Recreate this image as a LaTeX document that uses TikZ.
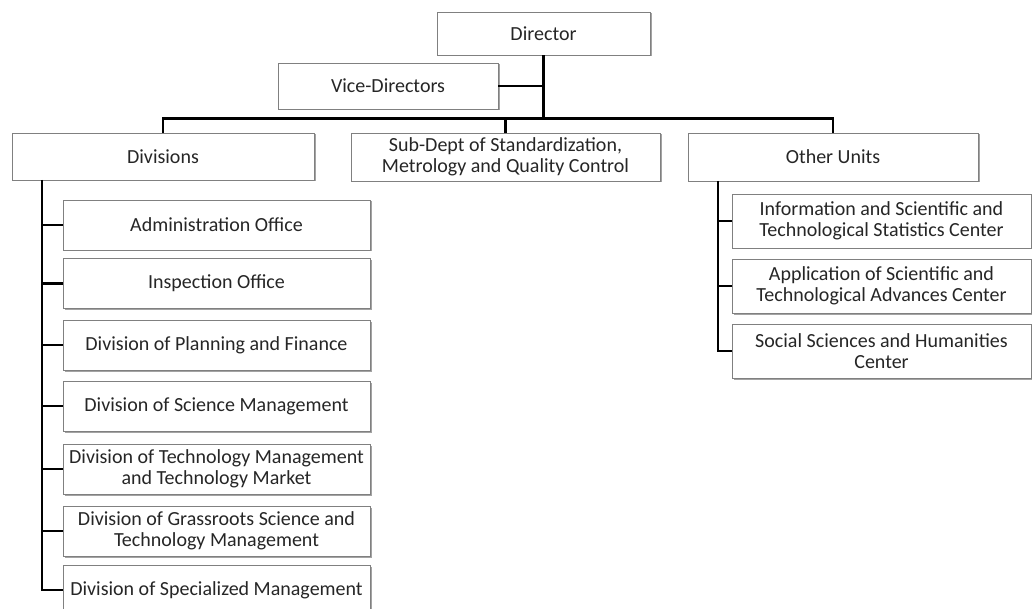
\documentclass[tikz,border=0pt]{standalone}
\usepackage{fontspec}
\setmainfont{Carlito}
\usetikzlibrary{shadows}
\begin{document}
\begin{tikzpicture}[x=1pt,y=-1pt,
  box/.style={draw=black!50, line width=0.9pt, fill=white, text=black!85,
    align=center, inner sep=0pt,
    font=\fontsize{20}{21.5}\selectfont,
    drop shadow={shadow xshift=1.5pt, shadow yshift=-1.5pt, fill=black!45, opacity=0.8}},
  conn/.style={draw=black, line width=2.3pt},
]
\useasboundingbox (0,0) rectangle (1032,609);
\begin{scope}
\clip (0,0) rectangle (1032,609);

% top levels
\node[box, minimum width=213, minimum height=43] (dir) at (543.5,33.5) {Director};
\node[box, minimum width=220, minimum height=46] (vice) at (388,86) {Vice-Directors};
\node[box, minimum width=302, minimum height=47] (div) at (163,156.5) {Divisions};
\node[box, minimum width=309, minimum height=48] (sub) at (505.5,157) {Sub-Dept of Standardization,\\Metrology and Quality Control};
\node[box, minimum width=290, minimum height=48] (oth) at (833,157) {Other Units};

% divisions
\begin{scope}[every node/.style={box, minimum width=307, minimum height=50}]
\node (d1) at (216.5,225) {Administration Office};
\node (d2) at (216.5,283.5) {Inspection Office};
\node (d3) at (216.5,345) {Division of Planning and Finance};
\node (d4) at (216.5,406) {Division of Science Management};
\node (d5) at (216.5,469) {Division of Technology Management\\and Technology Market};
\node (d6) at (216.5,531) {Division of Grassroots Science and\\Technology Management};
\node (d7) at (216.5,590) {Division of Specialized Management};
\end{scope}

% other units
\begin{scope}[every node/.style={box, minimum width=299, minimum height=54}]
\node (o1) at (881.5,221) {Information and Scientific and\\Technological Statistics Center};
\node (o2) at (881.5,286) {Application of Scientific and\\Technological Advances Center};
\node (o3) at (881.5,351) {Social Sciences and Humanities\\Center};
\end{scope}

% connectors
\coordinate (bus) at (0,118.5);
\coordinate (dsp) at (42,180);
\coordinate (osp) at (718,181);

\draw[conn] (dir.south) -- (dir.south |- bus);
\draw[conn] (vice.east) -- (vice.east -| dir.south);
\draw[conn] (div.north) -- (div.north |- bus) -| (oth.north);
\draw[conn] (sub.north) -- (sub.north |- bus);

\draw[conn] (dsp) |- (d7.west);
\foreach \n in {d1,d2,d3,d4,d5,d6}
  \draw[conn] (\n.west) -- (\n.west -| dsp);

\draw[conn] (osp) |- (o3.west);
\foreach \n in {o1,o2}
  \draw[conn] (\n.west) -- (\n.west -| osp);
\end{scope}
\end{tikzpicture}
\end{document}
